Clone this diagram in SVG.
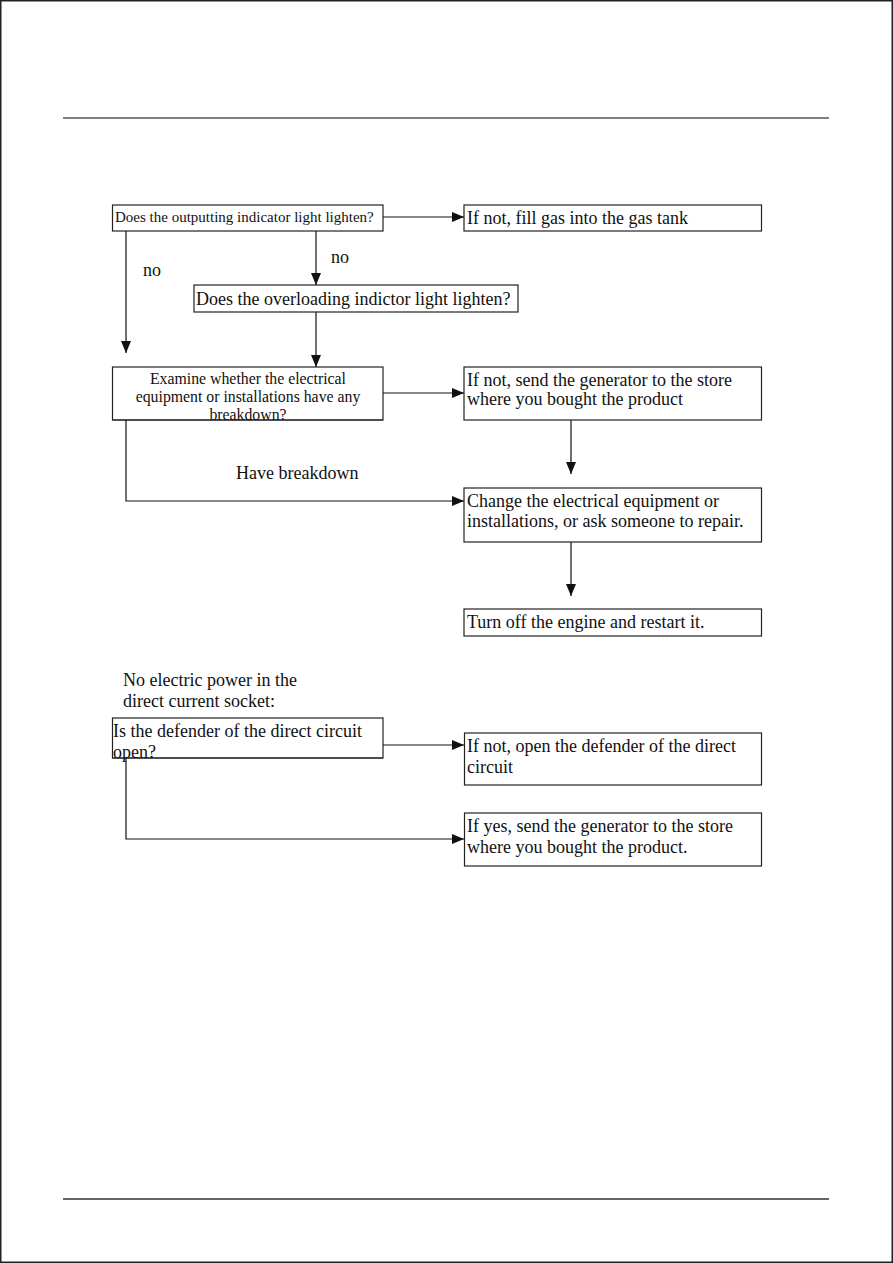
<svg xmlns="http://www.w3.org/2000/svg" width="893" height="1263" viewBox="0 0 893 1263">
<style>
text{font-family:"Liberation Serif","Times New Roman",serif;fill:#111;}
.box{fill:#fff;stroke:#222;stroke-width:1.2;}
.con{fill:none;stroke:#111;stroke-width:1.2;}
.t16{font-size:18px;}
.t13{font-size:15px;}
.t14{font-size:15.8px;}
</style>
<defs>
<marker id="arr" markerUnits="userSpaceOnUse" markerWidth="12" markerHeight="10" refX="12" refY="5" orient="auto">
<path d="M0,0 L12,5 L0,10 z" fill="#111"/>
</marker>
</defs>
<rect x="0.75" y="0.75" width="891.5" height="1261.5" fill="#fff" stroke="#222" stroke-width="1.5"/>
<line x1="63" y1="118" x2="829" y2="118" stroke="#555" stroke-width="1.3"/>
<line x1="63" y1="1199" x2="829" y2="1199" stroke="#666" stroke-width="2"/>

<g id="connectors">
<line class="con" x1="383" y1="217" x2="464" y2="217" marker-end="url(#arr)"/>
<line class="con" x1="316" y1="231" x2="316" y2="285" marker-end="url(#arr)"/>
<line class="con" x1="126" y1="231" x2="126" y2="353" marker-end="url(#arr)"/>
<line class="con" x1="316" y1="312" x2="316" y2="367" marker-end="url(#arr)"/>
<line class="con" x1="383" y1="393" x2="464" y2="393" marker-end="url(#arr)"/>
<line class="con" x1="571" y1="420" x2="571" y2="474" marker-end="url(#arr)"/>
<polyline class="con" points="126,420 126,501 464,501" marker-end="url(#arr)"/>
<line class="con" x1="571" y1="542" x2="571" y2="596" marker-end="url(#arr)"/>
<line class="con" x1="383" y1="745" x2="464" y2="745" marker-end="url(#arr)"/>
<polyline class="con" points="126,758 126,839 464,839" marker-end="url(#arr)"/>
<text class="t16" x="331" y="263">no</text>
<text class="t16" x="143" y="276">no</text>
<text class="t16" x="236" y="479">Have breakdown</text>
</g>

<g id="n1">
<rect class="box" x="112.5" y="205" width="270.5" height="26"/>
<text class="t13" x="115" y="222">Does the outputting indicator light lighten?</text>
</g>
<g id="n2">
<rect class="box" x="464" y="205" width="297.5" height="26"/>
<text class="t16" x="467" y="224">If not, fill gas into the gas tank</text>
</g>
<g id="n3">
<rect class="box" x="194" y="285" width="324" height="27"/>
<text class="t16" x="196" y="305">Does the overloading indictor light lighten?</text>
</g>
<g id="n4">
<rect class="box" x="112.5" y="367" width="270.5" height="53"/>
<text class="t14" x="248" y="384" text-anchor="middle">Examine whether the electrical</text>
<text class="t14" x="248" y="402" text-anchor="middle">equipment or installations have any</text>
<text class="t14" x="248" y="420" text-anchor="middle">breakdown?</text>
<line x1="112.5" y1="420" x2="383" y2="420" stroke="#222" stroke-width="1.2"/>
</g>
<g id="n5">
<rect class="box" x="464" y="367" width="297.5" height="53"/>
<text class="t16" x="467" y="386">If not, send the generator to the store</text>
<text class="t16" x="467" y="405">where you bought the product</text>
</g>
<g id="n6">
<rect class="box" x="464" y="488" width="297.5" height="54"/>
<text class="t16" x="467" y="507">Change the electrical equipment or</text>
<text class="t16" x="467" y="527">installations, or ask someone to repair.</text>
</g>
<g id="n7">
<rect class="box" x="464" y="609" width="297.5" height="27"/>
<text class="t16" x="467" y="628">Turn off the engine and restart it.</text>
</g>
<g id="heading">
<text class="t16" x="123" y="686">No electric power in the</text>
<text class="t16" x="123" y="707">direct current socket:</text>
</g>
<g id="n8">
<rect class="box" x="112.5" y="718" width="270.5" height="40"/>
<text class="t16" x="113" y="737">Is the defender of the direct circuit</text>
<text class="t16" x="113" y="758">open?</text>
<line x1="112.5" y1="758" x2="383" y2="758" stroke="#222" stroke-width="1.2"/>
</g>
<g id="n9">
<rect class="box" x="464.5" y="733" width="297" height="52"/>
<text class="t16" x="467" y="752">If not, open the defender of the direct</text>
<text class="t16" x="467" y="773">circuit</text>
</g>
<g id="n10">
<rect class="box" x="464.5" y="813" width="297" height="53"/>
<text class="t16" x="467" y="832">If yes, send the generator to the store</text>
<text class="t16" x="467" y="853">where you bought the product.</text>
</g>
</svg>
